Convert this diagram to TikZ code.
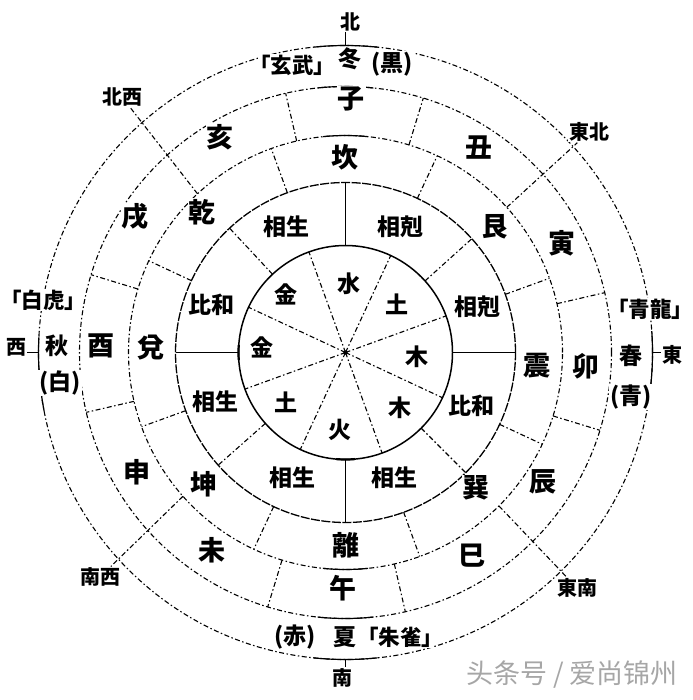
\documentclass[tikz,border=0pt]{standalone}
\usepackage{fontspec}
\setmainfont{Noto Sans CJK JP}
\newfontfamily\wmfont{Noto Sans CJK SC}
\usetikzlibrary{calc}
\newcommand{\beastname}[1]{\hspace*{-.45em}「#1」\hspace*{-.45em}}
\begin{document}
\begin{tikzpicture}[x=1pt,y=1pt,
  ddash/.style={line width=1.1pt, dash pattern=on 5pt off 2.5pt on 1.5pt off 2.5pt},
  ringzero/.style={line width=1.5pt},
  ringone/.style={line width=1.3pt, dash pattern=on 9pt off 1.5pt},
  solidline/.style={line width=1.2pt},
  lbl/.style={fill=white, inner sep=1pt},
  elem/.style={lbl, font=\fontsize{23}{23}\selectfont\bfseries},
  rel/.style={lbl, font=\fontsize{23}{23}\selectfont\bfseries},
  gua/.style={lbl, font=\fontsize{27}{27}\selectfont\bfseries},
  zhi/.style={lbl, font=\fontsize{27}{27}\selectfont\bfseries},
  season/.style={lbl, font=\fontsize{23}{23}\selectfont\bfseries},
  beast/.style={lbl, inner sep=1pt, font=\fontsize{21.5}{21.5}\selectfont\bfseries},
  dir/.style={lbl, font=\fontsize{20}{20}\selectfont\bfseries},
  wm/.style={inner sep=0pt, font=\wmfont\fontsize{27}{27}\selectfont, text=black!35}
]
\useasboundingbox (0,0) rectangle (692,-700);
\coordinate (c) at (345.5,-352.5);

% circles
\draw[ringzero] (c) circle[radius=107];
\draw[ringone] (c) circle[radius=170];
\foreach \r in {217,266,307} \draw[ddash] (c) circle[radius=\r];
\foreach \r in {217,266,307} {
  \draw[solidline] ($(c)+(84:\r)$) arc[start angle=84, end angle=96, radius=\r];
  \draw[solidline] ($(c)+(264:\r)$) arc[start angle=264, end angle=276, radius=\r];
}
\draw[solidline] ($(c)+(-8:307)$) arc[start angle=-8, end angle=4, radius=307];
\draw[solidline] ($(c)+(177:307)$) arc[start angle=177, end angle=191, radius=307];
\draw[line width=2.2pt] ($(c)+(265:107)$) arc[start angle=265, end angle=275, radius=107];
\draw[line width=2.2pt] ($(c)+(176:107)$) arc[start angle=176, end angle=184, radius=107];

% ring 0 dividers
\foreach \a in {20,65,...,335} \draw[ddash] (c) -- ($(c)+(\a:107)$);
\fill (c) circle[radius=2.2];
% ring 1 dividers
\foreach \a in {0,90,180,270} \draw[solidline] ($(c)+(\a:107)$) -- ($(c)+(\a:170)$);
\foreach \a in {42,133,221.5,315} \draw[ddash] ($(c)+(\a:107)$) -- ($(c)+(\a:170)$);
% ring 2 dividers
\foreach \a in {20,65,...,335} \draw[ddash] ($(c)+(\a:170)$) -- ($(c)+(\a:217)$);
% ring 3 dividers
\foreach \a in {13,73,103,163,193,253,283,343} \draw[ddash] ($(c)+(\a:217)$) -- ($(c)+(\a:266)$);

% direction labels
\node[dir] (nN) at (350,-22) {北};
\node[dir] (nS) at (342,-678) {南};
\node[dir] (nW) at (16,-347) {西};
\node[dir] (nE) at (672,-355) {東};
\node[dir] (nNW) at (122,-97) {北西};
\node[dir] (nNE) at (589,-132) {東北};
\node[dir] (nSW) at (100,-577) {南西};
\node[dir] (nSE) at (577,-588) {東南};

\coordinate (tN) at ($(c)+(90:307)$);
\coordinate (tS) at ($(c)+(270:307)$);
\coordinate (tW) at ($(c)+(180:307)$);
\coordinate (tE) at ($(c)+(0:307)$);
\draw[solidline] (tN) -- (tN |- nN.south);
\draw[solidline] (tS) -- (tS |- nS.north);
\draw[solidline] (tW) -- (tW -| nW.east);
\draw[solidline] (tE) -- (tE -| nE.west);

\coordinate (dNW) at ($(c)+(133:217)$);
\coordinate (dNE) at ($(c)+(42:217)$);
\coordinate (dSE) at ($(c)+(315:217)$);
\coordinate (dSW) at ($(c)+(221.5:217)$);
\draw[ddash] (dNW) -- (nNW);
\draw[ddash] (dNE) -- (nNE);
\draw[ddash] (dSE) -- (nSE);
\draw[ddash] (dSW) -- (nSW);

% ring 0: elements
\node[elem] (e1) at (349,-284) {水};
\node[elem] (e2) at (397,-304) {土};
\node[elem] (e3) at (417,-357) {木};
\node[elem] (e4) at (400,-408) {木};
\node[elem] (e5) at (340,-430) {火};
\node[elem] (e6) at (286,-402) {土};
\node[elem] (e7) at (262,-347) {金};
\node[elem] (e8) at (286,-294) {金};

% ring 1: relations
\node[rel] (r1) at (286,-227) {相生};
\node[rel] (r2) at (400,-227) {相剋};
\node[rel] (r3) at (477,-307) {相剋};
\node[rel] (r4) at (471,-406) {比和};
\node[rel] (r5) at (394,-478) {相生};
\node[rel] (r6) at (292,-478) {相生};
\node[rel] (r7) at (215,-402) {相生};
\node[rel] (r8) at (211,-305) {比和};

% ring 2: trigrams
\node[gua] (g1) at (345,-157) {坎};
\node[gua] (g2) at (495,-227) {艮};
\node[gua] (g3) at (537,-366) {震};
\node[gua] (g4) at (476,-488) {巽};
\node[gua] (g5) at (346,-545) {離};
\node[gua] (g6) at (204,-484) {坤};
\node[gua] (g7) at (151,-348) {兌};
\node[gua] (g8) at (202,-212) {乾};

% ring 3: branches
\node[zhi] (z1) at (351,-99) {子};
\node[zhi] (z2) at (479,-148) {丑};
\node[zhi] (z3) at (562,-243) {寅};
\node[zhi] (z4) at (586,-366) {卯};
\node[zhi] (z5) at (543,-482) {辰};
\node[zhi] (z6) at (472,-556) {巳};
\node[zhi] (z7) at (343,-588) {午};
\node[zhi] (z8) at (212,-550) {未};
\node[zhi] (z9) at (137,-472) {申};
\node[zhi] (z10) at (101,-346) {酉};
\node[zhi] (z11) at (135,-217) {戌};
\node[zhi] (z12) at (220,-137) {亥};

% ring 4: seasons
\node[beast] (s1) at (292,-65) {\beastname{玄武}};
\node[season] (s2) at (350,-59) {冬};
\node[season] (s3) at (392,-64) {(黒)};
\node[beast] (s4) at (650,-309) {\beastname{青龍}};
\node[season] (s5) at (631,-356) {春};
\node[season] (s6) at (631,-397) {(青)};
\node[season] (s7) at (295,-637) {(赤)};
\node[season] (s8) at (345,-637) {夏};
\node[beast] (s9) at (400,-637) {\beastname{朱雀}};
\node[beast] (s10) at (43,-300) {\beastname{白虎}};
\node[season] (s11) at (57,-346) {秋};
\node[season] (s12) at (60,-383) {(白)};

% watermark
\node[wm] (wm) at (572,-675) {头条号 / 爱尚锦州};
\end{tikzpicture}
\end{document}
